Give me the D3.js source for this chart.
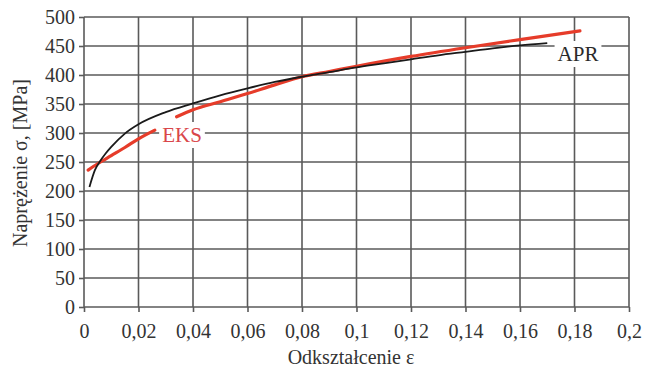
<!DOCTYPE html>
<html>
<head>
<meta charset="utf-8">
<script src="https://cdn.jsdelivr.net/npm/d3@7/dist/d3.min.js"></script>
<style>
  html, body { margin: 0; padding: 0; background: #fff; }
  svg { display: block; }
  svg text { font-family: "Liberation Serif", "Times New Roman", "DejaVu Serif", serif !important; }
</style>
</head>
<body>
<svg id="chart" width="649" height="370"></svg>
<script>
// ---- data ----
const xTicks = [0, 0.02, 0.04, 0.06, 0.08, 0.1, 0.12, 0.14, 0.16, 0.18, 0.2];
const xTickLabels = ["0", "0,02", "0,04", "0,06", "0,08", "0,1", "0,12", "0,14", "0,16", "0,18", "0,2"];
const yTicks = [0, 50, 100, 150, 200, 250, 300, 350, 400, 450, 500];

// APR (black) curve: [strain, stress MPa]
const aprStrain = [0.002, 0.004, 0.006, 0.008, 0.01, 0.015, 0.02, 0.03, 0.04, 0.05, 0.06, 0.07, 0.08, 0.09, 0.10, 0.11, 0.12, 0.13, 0.14, 0.15, 0.16, 0.17];
const aprStress = [207, 236, 252, 265, 276, 299, 315, 336, 351, 365, 377, 388, 397, 405, 413, 420, 427, 434, 440, 446, 451, 455];

// EKS (red) curve, two segments (gap around label)
const eks1Strain = [0.0015, 0.005, 0.01, 0.015, 0.02, 0.026];
const eks1Stress = [236, 247, 261, 275, 290, 305];
const eks2Strain = [0.034, 0.04, 0.05, 0.06, 0.07, 0.08, 0.09, 0.10, 0.12, 0.14, 0.16, 0.182];
const eks2Stress = [328, 340, 354, 368, 383, 397, 406, 415, 432, 447, 461, 476];

const xTitle = "Odkształcenie ε";
const yTitle = "Naprężenie σ, [MPa]";

// ---- drawing ----
const svg = d3.select("#chart");
const x = d3.scaleLinear().domain([0, 0.2]).range([84, 629]);
const y = d3.scaleLinear().domain([0, 500]).range([307, 17]);
const gridColor = "#5a5a5a";
const textColor = "#333333";
const serif = "'Liberation Serif', 'Times New Roman', 'DejaVu Serif', serif";

// grid
svg.append("g").selectAll("line.v").data(xTicks).join("line")
  .attr("x1", d => x(d)).attr("x2", d => x(d))
  .attr("y1", y(0)).attr("y2", y(500))
  .attr("stroke", gridColor).attr("stroke-width", 1.6);
svg.append("g").selectAll("line.h").data(yTicks).join("line")
  .attr("x1", x(0)).attr("x2", x(0.2))
  .attr("y1", d => y(d)).attr("y2", d => y(d))
  .attr("stroke", gridColor).attr("stroke-width", 1.6);

// axes
const fmtX = d => xTickLabels[xTicks.findIndex(t => Math.abs(t - d) < 1e-9)];
const xAxis = svg.append("g").attr("transform", `translate(0,${y(0)})`)
  .call(d3.axisBottom(x).tickValues(xTicks).tickFormat(fmtX).tickSize(5).tickPadding(12));
const yAxis = svg.append("g").attr("transform", `translate(${x(0)},0)`)
  .call(d3.axisLeft(y).tickValues(yTicks).tickSize(5).tickPadding(4));
[xAxis, yAxis].forEach(g => {
  g.attr("font-family", serif).attr("font-size", 20);
  g.select(".domain").remove();
  g.selectAll(".tick line").attr("stroke", gridColor).attr("stroke-width", 1.6);
  g.selectAll(".tick text").attr("fill", textColor);
});

// curves
const line = d3.line().x(d => x(d[0])).y(d => y(d[1])).curve(d3.curveMonotoneX);
const apr = aprStrain.map((s, i) => [s, aprStress[i]]);
const eks1 = eks1Strain.map((s, i) => [s, eks1Stress[i]]);
const eks2 = eks2Strain.map((s, i) => [s, eks2Stress[i]]);

function label(txt, cx, by, color) {
  const g = svg.append("g");
  const t = g.append("text").attr("x", cx).attr("y", by).attr("text-anchor", "middle")
    .attr("fill", color).attr("font-family", serif).attr("font-size", 21).text(txt);
  const b = t.node().getBBox();
  g.insert("rect", "text").attr("x", b.x - 3).attr("y", b.y - 1)
    .attr("width", b.width + 6).attr("height", b.height + 2).attr("fill", "#fff");
  return g;
}

svg.append("path").datum(eks1).attr("d", line).attr("fill", "none")
  .attr("stroke", "#e63c2a").attr("stroke-width", 3.2).attr("stroke-linecap", "round");
svg.append("path").datum(eks2).attr("d", line).attr("fill", "none")
  .attr("stroke", "#e63c2a").attr("stroke-width", 3.2).attr("stroke-linecap", "round");
svg.append("path").datum(apr).attr("d", line).attr("fill", "none")
  .attr("stroke", "#1a1a1a").attr("stroke-width", 1.8);

label("EKS", 182, 142, "#d9464a");
label("APR", 578, 61, "#2a2a2a");

// titles
svg.append("text").attr("x", 351).attr("y", 364).attr("text-anchor", "middle")
  .attr("fill", textColor).attr("font-family", serif).attr("font-size", 20).text(xTitle);
svg.append("text").attr("transform", "translate(27,163) rotate(-90)")
  .attr("text-anchor", "middle").attr("fill", textColor).attr("font-family", serif)
  .attr("font-size", 20).text(yTitle);
</script>
</body>
</html>
